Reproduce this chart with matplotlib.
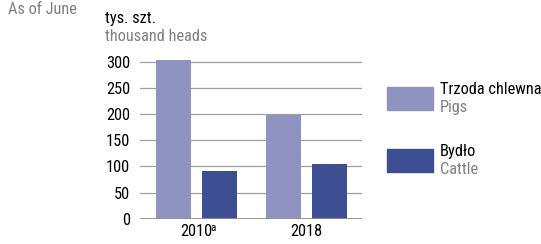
import numpy as np
import matplotlib
matplotlib.use("Agg")
import matplotlib.pyplot as plt
from matplotlib.patches import Rectangle
from matplotlib import font_manager

names = {f.name for f in font_manager.fontManager.ttflist}
cands = ['Roboto Condensed', 'Open Sans Condensed', 'DejaVu Sans Condensed',
         'Liberation Sans Narrow', 'Roboto']
fam = [n for n in cands if n in names][:1] + ['DejaVu Sans']
plt.rcParams['font.family'] = fam

# data
years = ["2010", "2018"]
pigs = [303, 199]
cattle = [91, 104]
yticks = [0, 50, 100, 150, 200, 250, 300]

C_PIGS = "#8e93c0"
C_CATTLE = "#3e4e92"
GRAY = "#808080"
FS = 11.8

fig = plt.figure(figsize=(5.41, 2.44), dpi=100)
ax = fig.add_axes([0.2588, 0.1037, 0.4103, 0.664])

x = np.arange(len(years))
w = 0.318
off = 0.209
ax.bar(x - off, pigs, w, color=C_PIGS, zorder=3)
ax.bar(x + off, cattle, w, color=C_CATTLE, zorder=3)

ax.set_xlim(-0.514, 1.505)
ax.set_ylim(0, 310)
ax.set_yticks(yticks)
ax.set_yticklabels([str(t) for t in yticks], fontsize=FS)
ax.set_xticks(x)
ax.set_xticklabels(years, fontsize=FS)
ax.tick_params(axis="y", length=0, pad=7)
ax.tick_params(axis="x", length=0, pad=4)
for t in yticks[1:]:
    ax.axhline(t, color="#a0a0a0", lw=0.9, zorder=1)
ax.axhline(0, color="#909090", lw=2, zorder=4)
for s in ax.spines.values():
    s.set_visible(False)

# superscript a after 2010
fig.canvas.draw()
bb = ax.get_xticklabels()[0].get_window_extent()
fig.text((bb.x1 - 2) / 541, (bb.y1 + 1) / 244, "a", fontsize=8, va="top", ha="left")

# header texts
fig.text(8 / 541, 1 - 2 / 244, "As of June", fontsize=FS, color=GRAY, va="top")
fig.text(105 / 541, 1 - 11 / 244, "tys. szt.", fontsize=FS, color="black", va="top")
fig.text(105 / 541, 1 - 29 / 244, "thousand heads", fontsize=FS, color=GRAY, va="top")

# legend
fig.patches.append(Rectangle((387 / 541, 1 - 110 / 244), 46 / 541, 23 / 244,
                             transform=fig.transFigure, color=C_PIGS))
fig.patches.append(Rectangle((387 / 541, 1 - 172 / 244), 46 / 541, 23 / 244,
                             transform=fig.transFigure, color=C_CATTLE))
fig.text(440 / 541, 1 - 82 / 244, "Trzoda chlewna", fontsize=FS, color="black", va="top")
fig.text(440 / 541, 1 - 100 / 244, "Pigs", fontsize=FS, color=GRAY, va="top")
fig.text(440 / 541, 1 - 144 / 244, "Bydło", fontsize=FS, color="black", va="top")
fig.text(440 / 541, 1 - 162 / 244, "Cattle", fontsize=FS, color=GRAY, va="top")

fig.savefig("out.png", dpi=100)
